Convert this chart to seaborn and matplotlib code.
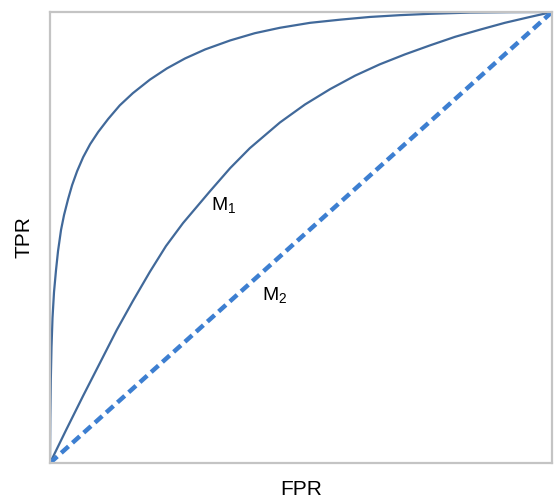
import matplotlib
matplotlib.use("Agg")
import matplotlib.pyplot as plt
import seaborn as sns
import pandas as pd

# ROC curve readings (FPR, TPR)
upper_fpr = [0.0, 0.0006, 0.0016, 0.003, 0.005, 0.008, 0.012, 0.016, 0.022, 0.028,
             0.036, 0.044, 0.054, 0.066, 0.080, 0.096, 0.116, 0.139, 0.165, 0.199,
             0.233, 0.269, 0.309, 0.359, 0.408, 0.458, 0.518, 0.578, 0.637, 0.697,
             0.757, 0.837, 0.916, 1.0]
upper_tpr = [0.0, 0.100, 0.184, 0.257, 0.322, 0.379, 0.428, 0.470, 0.517, 0.550,
             0.585, 0.616, 0.647, 0.678, 0.707, 0.734, 0.763, 0.793, 0.820, 0.850,
             0.875, 0.897, 0.917, 0.937, 0.953, 0.965, 0.976, 0.983, 0.989, 0.993,
             0.996, 0.9987, 0.9996, 1.0]

m1_fpr = [0.0, 0.032, 0.066, 0.100, 0.133, 0.165, 0.199, 0.231, 0.265, 0.319,
          0.359, 0.398, 0.458, 0.508, 0.558, 0.608, 0.657, 0.707, 0.757, 0.807,
          0.857, 0.906, 0.956, 1.0]
m1_tpr = [0.0, 0.073, 0.149, 0.223, 0.295, 0.359, 0.424, 0.481, 0.532, 0.603,
          0.654, 0.698, 0.755, 0.795, 0.829, 0.859, 0.884, 0.906, 0.926, 0.945,
          0.961, 0.976, 0.989, 1.0]

m2_fpr = [0.0, 1.0]
m2_tpr = [0.0, 1.0]

labels = ["M$\\mathregular{_1}$", "M$\\mathregular{_2}$"]
x_label = "FPR"
y_label = "TPR"

sns.set_theme(style="white")
plt.rcParams['font.family'] = ['Liberation Sans', 'DejaVu Sans']
plt.rcParams['mathtext.fontset'] = 'custom'
plt.rcParams['mathtext.rm'] = 'Liberation Sans'

fig = plt.figure(figsize=(5.54, 4.98), dpi=100)
ax = fig.add_axes([50 / 554, 35 / 498, 502 / 554, 451 / 498])

df_up = pd.DataFrame({"FPR": upper_fpr, "TPR": upper_tpr})
df_m1 = pd.DataFrame({"FPR": m1_fpr, "TPR": m1_tpr})
df_m2 = pd.DataFrame({"FPR": m2_fpr, "TPR": m2_tpr})

solid_col = "#41699a"
dash_col = "#3d7fd1"
sns.lineplot(data=df_up, x="FPR", y="TPR", ax=ax, color=solid_col, lw=1.6,
             sort=False, estimator=None)
sns.lineplot(data=df_m1, x="FPR", y="TPR", ax=ax, color=solid_col, lw=1.6,
             sort=False, estimator=None)
sns.lineplot(data=df_m2, x="FPR", y="TPR", ax=ax, color=dash_col, lw=3.2,
             sort=False, estimator=None, dashes=False)
ax.lines[-1].set_linestyle((0, (2.2, 1.2)))
for ln in ax.lines:
    ln.set_solid_joinstyle("round")

ax.set_xlim(0, 1)
ax.set_ylim(0, 1)
ax.set_xticks([])
ax.set_yticks([])
for s in ax.spines.values():
    s.set_color("#c4c4c4")
    s.set_linewidth(1.6)

ax.set_xlabel(x_label, fontsize=15, color="black", labelpad=12)
ax.set_ylabel(y_label, fontsize=15, color="black", labelpad=12)

ax.text(0.321, 0.572, labels[0], fontsize=14, ha="left", va="center", color="black")
ax.text(0.422, 0.3725, labels[1], fontsize=14, ha="left", va="center", color="black")

fig.savefig("out.png", dpi=100)
